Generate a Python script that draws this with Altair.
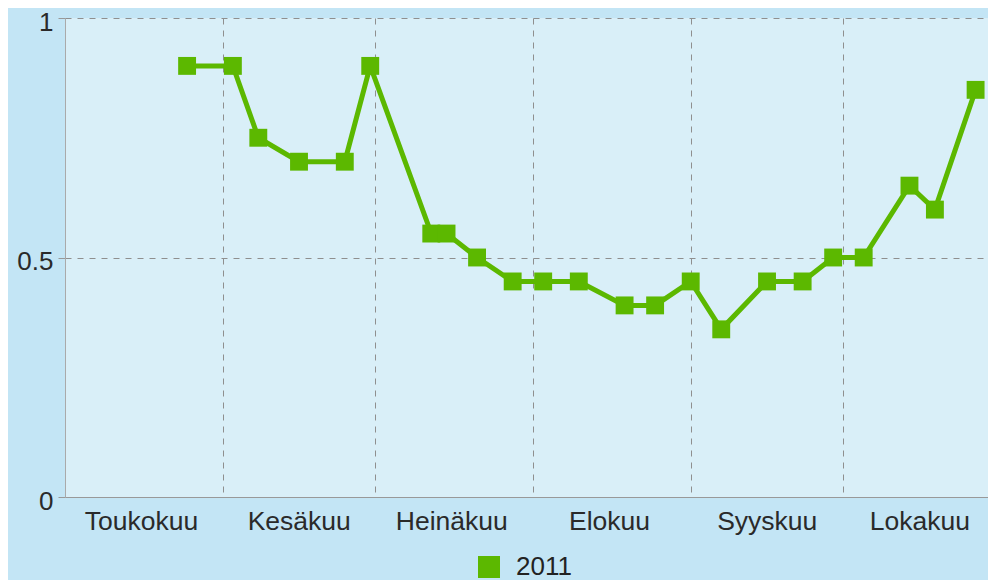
import altair as alt
import pandas as pd

series_name = "2011"
dates = ["2011-05-25", "2011-06-03", "2011-06-08", "2011-06-16", "2011-06-25",
         "2011-06-30", "2011-07-12", "2011-07-15", "2011-07-21", "2011-07-28",
         "2011-08-03", "2011-08-10", "2011-08-19", "2011-08-25", "2011-09-01",
         "2011-09-07", "2011-09-16", "2011-09-23", "2011-09-29", "2011-10-05",
         "2011-10-14", "2011-10-19", "2011-10-27"]
values = [0.9, 0.9, 0.75, 0.7, 0.7, 0.9, 0.55, 0.55, 0.5, 0.45, 0.45, 0.45,
          0.4, 0.4, 0.45, 0.35, 0.45, 0.45, 0.5, 0.5, 0.65, 0.6, 0.85]
month_names = ["Toukokuu", "Kesäkuu", "Heinäkuu", "Elokuu", "Syyskuu", "Lokakuu"]
y_ticks = [0, 0.5, 1]

df = pd.DataFrame({"date": dates, "value": values, "series": series_name})

GREEN = "#5cb800"
FONT = "Liberation Sans"
GRID = "#8f8f8f"

month_starts = [alt.DateTime(year=2011, month=m, date=1, utc=True) for m in range(5, 11)]
names_js = "[" + ",".join("'" + n + "'" for n in month_names) + "]"

x = alt.X(
    "date:T",
    scale=alt.Scale(
        type="utc",
        domain=[alt.DateTime(year=2011, month=5, date=1, utc=True),
                alt.DateTime(year=2011, month=10, date=29, hours=10, minutes=30, utc=True)],
    ),
    axis=alt.Axis(
        values=month_starts,
        labelExpr=names_js + "[utcmonth(datum.value) - 4]",
        labelOffset=76,
        labelFlush=False,
        labelOverlap=False,
        ticks=False,
        labelPadding=11,
        labelFontSize=26.5,
        title=None,
        grid=True,
        gridDash=[6, 6],
        gridColor=GRID,
        domainColor="#999999",
    ),
)
y = alt.Y(
    "value:Q",
    scale=alt.Scale(domain=[0, 1], nice=False),
    axis=alt.Axis(
        values=y_ticks,
        labelExpr="datum.value == 0.5 ? '0.5' : format(datum.value, 'd')",
        tickSize=7,
        tickColor="#999999",
        labelPadding=5,
        labelOffset=4,
        labelFontSize=26,
        title=None,
        grid=True,
        gridDash=[6, 6],
        gridColor=GRID,
        domainColor="#aaaaaa",
    ),
)

color = alt.Color(
    "series:N",
    scale=alt.Scale(range=[GREEN]),
    legend=alt.Legend(
        title=None,
        orient="none",
        legendX=411,
        legendY=536,
        symbolType="square",
        symbolSize=484,
        symbolStrokeWidth=0,
        symbolOpacity=1,
        labelFontSize=26,
        labelOffset=14,
        labelFont=FONT,
        labelColor="#222222",
    ),
)

line = alt.Chart(df).mark_line(strokeWidth=5, color=GREEN).encode(x=x, y=y)
pts = alt.Chart(df).mark_square(size=320, filled=True, opacity=1).encode(
    x=x, y=y, color=color
)

chart = (
    alt.layer(line, pts)
    .properties(
        width=923,
        height=479,
        autosize=alt.AutoSizeParams(type="none"),
        padding={"left": 57, "top": 10, "right": 0, "bottom": 83},
        background="#c3e5f5",
    )
    .configure_view(fill="#d9eff8", stroke=None)
    .configure_axis(
        labelFont=FONT,
        labelColor="#2a2a2a",
    )
)

chart.save("out.html", embed_options={"renderer": "svg", "actions": False})
